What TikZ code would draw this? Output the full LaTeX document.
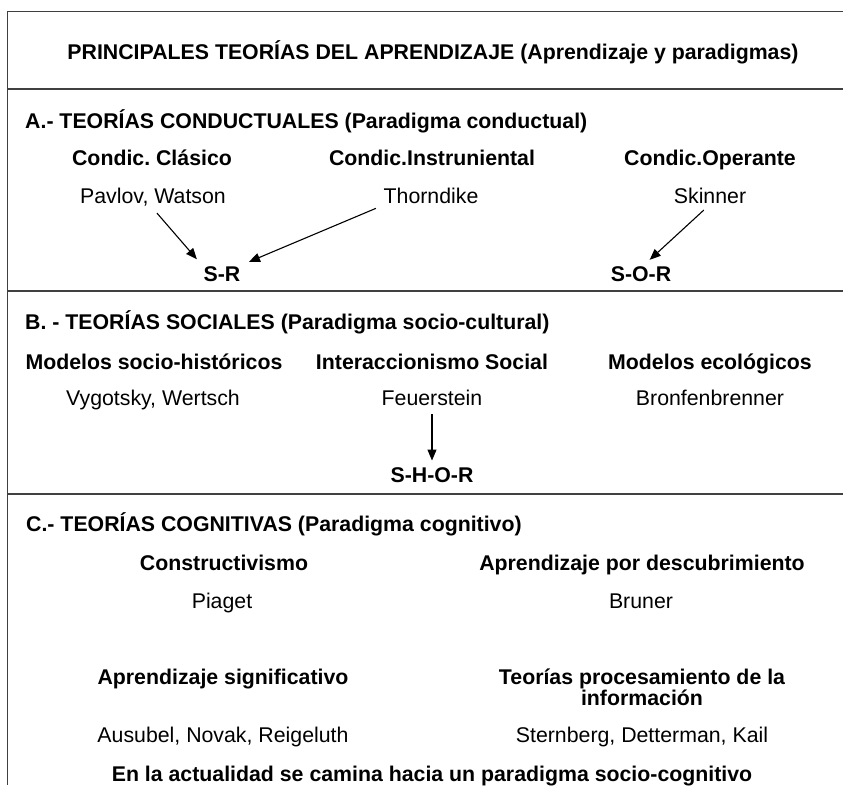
\documentclass[tikz,border=0pt]{standalone}
\usepackage{fontspec}
\setmainfont{Liberation Sans}
\usetikzlibrary{arrows.meta}
\frenchspacing
\tikzstyle{every node}=[inner sep=2pt, anchor=base, font=\fontsize{21.3}{21}\selectfont]
\tikzstyle{rule}=[line width=1.4pt, draw=black!75]
\tikzstyle{hd}=[font=\fontsize{21.3}{21}\selectfont\bfseries]
\tikzstyle{arr}=[line width=1.1pt, -{Triangle[length=11pt,width=9pt]}, shorten <=6pt, shorten >=7pt]

\begin{document}
\begin{tikzpicture}[x=1pt,y=-1pt]
\useasboundingbox (0,0) rectangle (843,785);
\draw[rule] (843,11.5) -- (7.5,11.5) -- (7.5,785);
\draw[rule] (7.5,89) -- (843,89);
\draw[rule] (7.5,291) -- (843,291);
\draw[rule] (7.5,494) -- (843,494);

\node[hd] (title) at (433,59.6) {PRINCIPALES TEORÍAS DEL APRENDIZAJE (Aprendizaje y paradigmas)};

\node[hd,anchor=base west] (ta) at (23,128.6) {A.- TEORÍAS CONDUCTUALES (Paradigma conductual)};
\node[hd] (clas) at (152,165.6) {Condic. Clásico};
\node[hd] (inst) at (432,165.6) {Condic.Instruniental};
\node[hd] (oper) at (710,165.6) {Condic.Operante};
\node (pav) at (153,203.6) {Pavlov, Watson};
\node (thor) at (431,203.6) {Thorndike};
\node (skin) at (710,203.6) {Skinner};
\node[hd] (sr) at (222,281.6) {S-R};
\node[hd] (sor) at (641,281.6) {S-O-R};
\draw[arr] (pav.south) -- (sr.north west);
\draw[arr] (thor.south west) -- (sr.north east);
\draw[arr] (skin.-100) -- (sor.70);

\node[hd,anchor=base west] (tb) at (23,329.6) {B. - TEORÍAS SOCIALES (Paradigma socio-cultural)};
\node[hd] (hist) at (154,369.6) {Modelos socio-históricos};
\node[hd] (inter) at (432,369.6) {Interaccionismo Social};
\node[hd] (eco) at (710,369.6) {Modelos ecológicos};
\node (vyg) at (153,405.6) {Vygotsky, Wertsch};
\node (feu) at (432,405.6) {Feuerstein};
\node (bron) at (710,405.6) {Bronfenbrenner};
\node[hd] (shor) at (432,482.6) {S-H-O-R};
\draw[arr,shorten >=5pt] (feu.south) -- (shor.north);

\node[hd,anchor=base west] (tc) at (24,531.6) {C.- TEORÍAS COGNITIVAS (Paradigma cognitivo)};
\node[hd] (cons) at (224,570.6) {Constructivismo};
\node[hd] (desc) at (642,570.6) {Aprendizaje por descubrimiento};
\node (pia) at (222,608.6) {Piaget};
\node (brun) at (641,608.6) {Bruner};
\node[hd] (sig) at (223,684.6) {Aprendizaje significativo};
\node[hd,align=center,anchor=center] (proc) at (642,687) {Teorías procesamiento de la\\información};
\node (aus) at (223,742.6) {Ausubel, Novak, Reigeluth};
\node (ster) at (642,742.6) {Sternberg, Detterman, Kail};
\node[hd] (act) at (432,781.6) {En la actualidad se camina hacia un paradigma socio-cognitivo};
\end{tikzpicture}
\end{document}
